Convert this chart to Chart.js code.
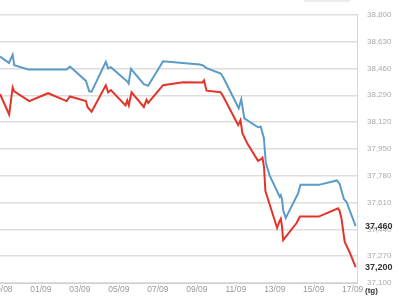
<!DOCTYPE html>
<html>
<head>
<meta charset="utf-8">
<script src="https://cdn.jsdelivr.net/npm/chart.js@4/dist/chart.umd.min.js"></script>
<style>
  html, body { margin: 0; padding: 0; background: #fff; }
  #wrap { width: 400px; height: 300px; }
</style>
</head>
<body>
<div id="wrap"><canvas id="myChart" width="400" height="300"></canvas></div>
<script>
// days of September (30/08 = -1, 31/08 = 0)
const blueDays = [-1.10, -0.64, -0.45, -0.37, 0.35, 2.32, 2.49, 2.66, 3.31, 3.48, 3.60, 4.33, 4.45, 4.59, 5.45, 5.50, 5.62, 6.28, 6.38, 6.50, 7.27, 9.15, 9.32, 9.50, 10.23, 10.38, 11.15, 11.28, 11.44, 12.14, 12.28, 12.44, 12.54, 12.74, 13.26, 13.31, 13.37, 13.43, 13.56, 14.19, 14.32, 15.26, 16.19, 16.33, 16.55, 16.68, 17.15];
const blueValues = [38536, 38495, 38547, 38480, 38454, 38454, 38472, 38454, 38381, 38315, 38313, 38502, 38460, 38468, 38375, 38365, 38458, 38361, 38356, 38350, 38505, 38485, 38479, 38462, 38428, 38398, 38208, 38264, 38143, 38087, 38091, 38019, 37863, 37781, 37646, 37656, 37631, 37563, 37511, 37666, 37722, 37722, 37750, 37728, 37631, 37615, 37460];

const redDays = [-1.10, -0.63, -0.45, -0.37, 0.40, 1.37, 2.32, 2.49, 3.31, 3.39, 3.60, 4.33, 4.45, 4.59, 5.34, 5.43, 5.51, 5.65, 6.28, 6.42, 6.50, 7.27, 8.30, 9.29, 9.37, 9.50, 10.22, 10.35, 11.12, 11.24, 11.34, 11.58, 12.14, 12.28, 12.37, 12.45, 12.52, 13.12, 13.22, 13.31, 13.37, 13.43, 13.55, 14.12, 14.29, 15.26, 16.25, 16.33, 16.42, 16.59, 16.85, 17.15];
const redValues = [38298, 38168, 38340, 38315, 38253, 38303, 38253, 38282, 38253, 38216, 38185, 38354, 38309, 38323, 38226, 38257, 38226, 38309, 38216, 38261, 38241, 38354, 38373, 38371, 38385, 38319, 38309, 38284, 38101, 38132, 38050, 37988, 37874, 37884, 37894, 37832, 37683, 37449, 37484, 37507, 37459, 37372, 37391, 37480, 37521, 37521, 37573, 37557, 37511, 37360, 37293, 37200];

const xTickDays = [-1, 1, 3, 5, 7, 9, 11, 13, 15, 17];
const yTicks = [37100, 37270, 37440, 37610, 37780, 37950, 38120, 38290, 38460, 38630, 38800];
const unitLabel = '(tg)';

const fmt = v => Math.round(v).toLocaleString('en-US');
const dayLabel = d => d <= 0 ? String(31 + d).padStart(2, '0') + '/08' : String(d).padStart(2, '0') + '/09';

const zip = (xs, ys) => xs.map((x, i) => ({ x: x, y: ys[i] }));

const extras = {
  id: 'extras',
  beforeDraw(chart) {
    const c = chart.ctx;
    c.save();
    c.fillStyle = '#ececec';
    c.beginPath();
    c.roundRect(303, -6, 48, 8, 3);
    c.fill();
    c.restore();
  },
  afterDraw(chart) {
    const c = chart.ctx;
    const y = chart.scales.y;
    c.save();
    c.fillStyle = '#333';
    c.font = 'bold 9px "Liberation Sans", Arial, sans-serif';
    c.textAlign = 'left';
    c.textBaseline = 'middle';
    chart.data.datasets.forEach(ds => {
      const last = ds.data[ds.data.length - 1].y;
      c.fillText(fmt(last), 365, y.getPixelForValue(last));
    });
    c.font = 'bold 8px "Liberation Sans", Arial, sans-serif';
    c.fillText(unitLabel, 365, 291);
    c.restore();
  }
};

new Chart(document.getElementById('myChart').getContext('2d'), {
  type: 'line',
  data: {
    datasets: [{
      data: zip(blueDays, blueValues),
      borderColor: '#5b9bc7',
      borderWidth: 2,
      pointRadius: 0,
      tension: 0,
      fill: false
    }, {
      data: zip(redDays, redValues),
      borderColor: '#e3342a',
      borderWidth: 2,
      pointRadius: 0,
      tension: 0,
      fill: false
    }]
  },
  options: {
    responsive: false,
    animation: false,
    layout: { padding: { top: 9, left: 0, right: 0, bottom: 0 } },
    plugins: { legend: { display: false }, tooltip: { enabled: false } },
    scales: {
      x: {
        type: 'linear',
        min: -1.10,
        max: 17.22,
        afterBuildTicks: s => { s.ticks = xTickDays.map(v => ({ value: v })); },
        afterFit: s => { s.height = 17; s.paddingLeft = 0; s.paddingRight = 0; },
        grid: { display: false, drawTicks: false },
        border: { display: true, color: '#cfcfcf', width: 1 },
        ticks: {
          autoSkip: false,
          maxRotation: 0,
          padding: 2,
          color: '#999',
          font: { family: '"Liberation Sans", Arial, sans-serif', size: 8.5 },
          callback: v => dayLabel(v)
        }
      },
      y: {
        position: 'right',
        min: 37100,
        max: 38800,
        afterBuildTicks: s => { s.ticks = yTicks.map(v => ({ value: v })); },
        afterFit: s => { s.width = 43; },
        grid: { color: '#dedede', lineWidth: 1.5, drawTicks: false },
        border: { display: true, color: '#d6d6d6', width: 1 },
        ticks: {
          padding: 10,
          color: '#aaa',
          font: { family: '"Liberation Sans", Arial, sans-serif', size: 8 },
          callback: v => fmt(v)
        }
      }
    }
  },
  plugins: [extras]
});
</script>
</body>
</html>
